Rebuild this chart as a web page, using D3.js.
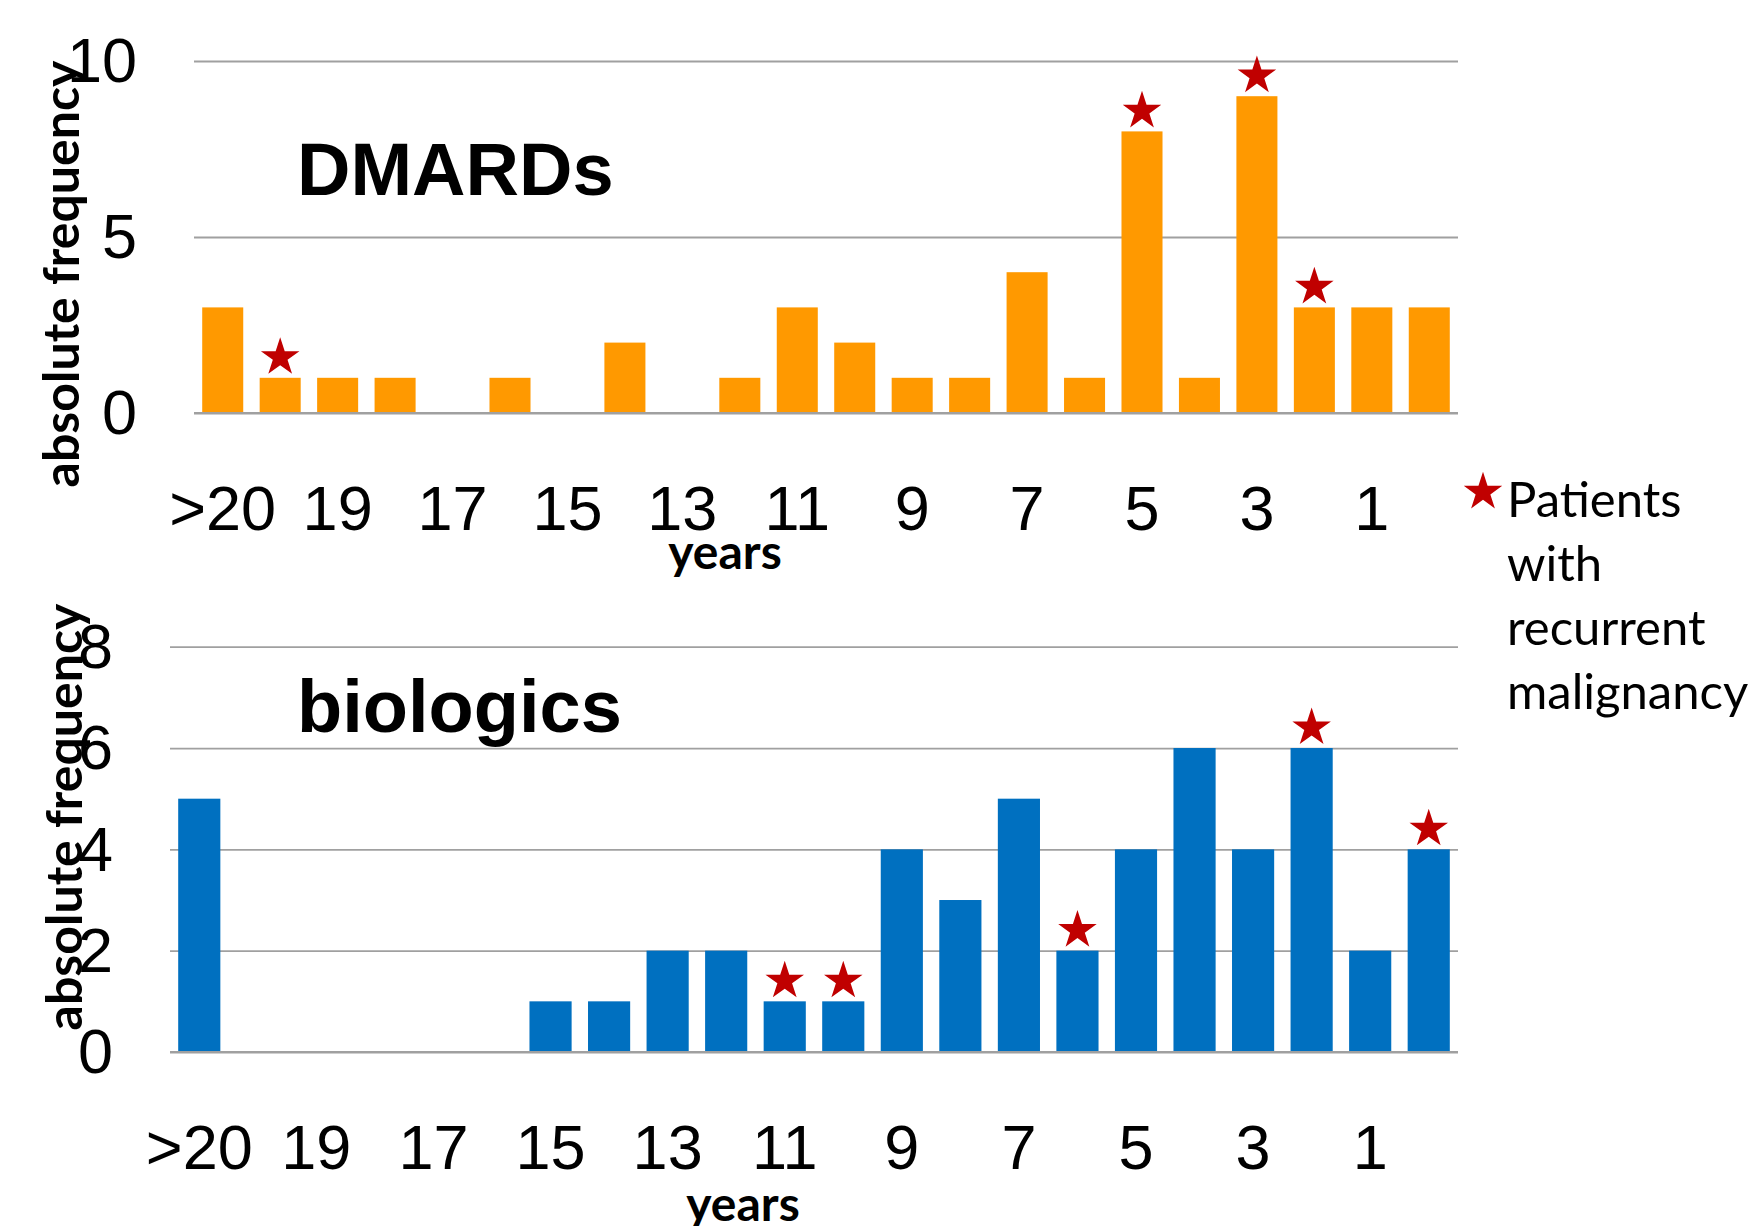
<!DOCTYPE html>
<html>
<head>
<meta charset="utf-8">
<script src="https://cdn.jsdelivr.net/npm/d3@7/dist/d3.min.js"></script>
<style>
  html, body { margin: 0; padding: 0; background: #ffffff; }
  svg { display: block; }
</style>
</head>
<body>
<svg id="chart" width="1752" height="1226"></svg>
<script>
// ---------------- DATA ----------------
const categories = [">20","20","19","18","17","16","15","14","13","12","11","10","9","8","7","6","5","4","3","2","1","0"];
const dmardsValues = [3,1,1,1,0,1,0,2,0,1,3,2,1,1,4,1,8,1,9,3,3,3];
const biologicsValues = [5,0,0,0,0,0,1,1,2,2,1,1,4,3,5,2,4,6,4,6,2,4];
const dmardsStars = ["20","5","3","2"];
const biologicsStars = ["11","10","6","2","0"];
const dmardsTicks = [0,5,10];
const biologicsTicks = [0,2,4,6,8];
const xLabelEvery = 2;
const titles = ["DMARDs","biologics"];
const yAxisTitle = "absolute frequency";
const xAxisTitle = "years";
const legendLines = ["Patients","with","recurrent","malignancy"];

// ---------------- LAYOUT / STYLE ----------------
const svg = d3.select("#chart");
const tickFont = "'Liberation Sans', Arial, sans-serif";
const calFont = "Lato, 'Open Sans', sans-serif";
const gridColor = "#a0a0a0";
const starColor = "#c00000";
const starSize = 460;
const starSym = d3.symbol().type(d3.symbolStar).size(starSize);
const starR = Math.sqrt(starSize * 0.8908130915292852);

const panels = [
  { values: dmardsValues, stars: dmardsStars, ticks: dmardsTicks, max: 10, color: "#ff9900",
    x0: 194, x1: 1458, yTop: 61, yBot: 413, pad: 0.286,
    title: titles[0], titleX: 297, titleY: 195, titleSize: 74,
    yTitleX: 79, yTitleY: 274, xTitleX: 725, xTitleY: 569 },
  { values: biologicsValues, stars: biologicsStars, ticks: biologicsTicks, max: 8, color: "#0070c0",
    x0: 170, x1: 1458, yTop: 646.7, yBot: 1052, pad: 0.28,
    title: titles[1], titleX: 297, titleY: 732, titleSize: 74,
    yTitleX: 82, yTitleY: 817, xTitleX: 743, xTitleY: 1221 }
];

panels.forEach(p => {
  const x = d3.scaleBand().domain(categories).range([p.x0, p.x1])
    .paddingInner(p.pad).paddingOuter(p.pad / 2);
  const y = d3.scaleLinear().domain([0, p.max]).range([p.yBot, p.yTop]);
  const g = svg.append("g");

  // gridlines + y tick labels
  const yAx = g.append("g").attr("transform", `translate(${p.x0},0)`)
    .call(d3.axisLeft(y).tickValues(p.ticks).tickSize(-(p.x1 - p.x0)).tickPadding(57).tickFormat(d3.format("d")));
  yAx.select(".domain").remove();
  yAx.selectAll("line").attr("stroke", gridColor).attr("stroke-width", 1.8);
  yAx.selectAll("text").attr("font-family", tickFont).attr("font-size", 63).attr("fill", "#000").attr("dy", "0.33em");

  // bars
  g.append("g").selectAll("rect").data(categories.map((c, i) => ({ c, v: p.values[i] })).filter(d => d.v > 0))
    .join("rect")
    .attr("x", d => x(d.c)).attr("width", x.bandwidth())
    .attr("y", d => y(d.v)).attr("height", d => y(0) - y(d.v))
    .attr("fill", p.color);

  // baseline redraw on top
  g.append("line").attr("x1", p.x0).attr("x2", p.x1).attr("y1", y(0)).attr("y2", y(0))
    .attr("stroke", gridColor).attr("stroke-width", 1.8);

  // x tick labels
  const xAx = g.append("g").attr("transform", `translate(0,${p.yBot})`)
    .call(d3.axisBottom(x).tickSize(0).tickPadding(72)
      .tickFormat((d, i) => i % xLabelEvery === 0 ? d : ""));
  xAx.select(".domain").remove();
  xAx.selectAll("text").attr("font-family", tickFont).attr("font-size", 63).attr("fill", "#000");

  // stars
  g.append("g").selectAll("path").data(p.stars).join("path")
    .attr("d", starSym)
    .attr("fill", starColor)
    .attr("transform", d => {
      const v = p.values[categories.indexOf(d)];
      return `translate(${x(d) + x.bandwidth() / 2},${y(v) - 4 - starR * 0.809})`;
    });

  // panel title
  g.append("text").attr("x", p.titleX).attr("y", p.titleY)
    .attr("font-family", tickFont).attr("font-weight", "bold").attr("font-size", p.titleSize)
    .attr("fill", "#000").text(p.title);

  // y axis title
  const yt = g.append("text")
    .attr("transform", `translate(${p.yTitleX},${p.yTitleY}) rotate(-90)`)
    .attr("text-anchor", "middle")
    .attr("font-family", calFont).attr("font-weight", "bold").attr("font-size", 50)
    .attr("fill", "#000").text(yAxisTitle);
  const len = yt.node().getComputedTextLength();
  if (len > 0) yt.attr("font-size", 50 * 427 / len);

  // x axis title
  g.append("text").attr("x", p.xTitleX).attr("y", p.xTitleY).attr("text-anchor", "middle")
    .attr("font-family", calFont).attr("font-weight", "bold").attr("font-size", 48)
    .attr("fill", "#000").text(xAxisTitle);
});

// legend
const lg = svg.append("g");
lg.append("path").attr("d", starSym).attr("fill", starColor)
  .attr("transform", `translate(1483,${490 + starR * 0.1})`);
const lt = lg.append("text").attr("font-family", calFont).attr("font-size", 49).attr("fill", "#000");
legendLines.forEach((t, i) => {
  lt.append("tspan").attr("x", 1507).attr("y", 517 + i * 64).text(t);
});
</script>
</body>
</html>
